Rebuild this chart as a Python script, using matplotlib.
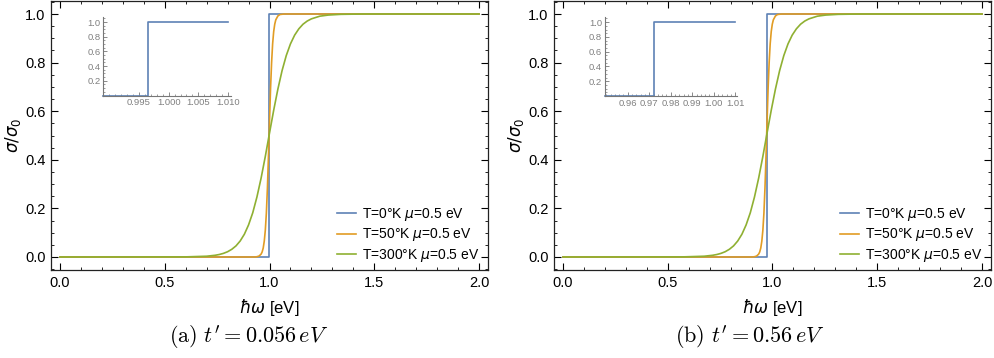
import numpy as np
import matplotlib
matplotlib.use("Agg")
import matplotlib.pyplot as plt
from matplotlib.ticker import MultipleLocator

plt.rcParams['font.family'] = ['Liberation Sans', 'DejaVu Sans']
plt.rcParams['mathtext.fontset'] = 'dejavusans'

# ---- data ----
labels = ["T=0°K $\\mu$=0.5 eV", "T=50°K $\\mu$=0.5 eV", "T=300°K $\\mu$=0.5 eV"]
caption_tex = [r"$\mathrm{(a)}\ t' = 0.056\,eV$", r"$\mathrm{(b)}\ t' = 0.56\,eV$"]

# T = 0 K step position
step_a = 0.9965
step_b = 0.972
step_y = [0, 0, 1, 1]
inset_end = 1.010

# T = 50 K
orange_a_x = [0, 0.93, 0.94, 0.95, 0.96, 0.965, 0.97, 0.975, 0.98, 0.985, 0.99, 0.995, 1.0,
              1.005, 1.01, 1.015, 1.02, 1.025, 1.03, 1.04, 1.05, 1.07, 2.0]
orange_b_x = [0, 0.904, 0.914, 0.924, 0.934, 0.939, 0.944, 0.949, 0.954, 0.959, 0.964, 0.969, 0.974,
              0.979, 0.984, 0.989, 0.994, 0.999, 1.004, 1.014, 1.024, 1.044, 2.0]
orange_y = [0, 0.0, 0.0012, 0.0038, 0.012, 0.021, 0.037, 0.065, 0.11, 0.18, 0.283, 0.413, 0.558,
            0.693, 0.80, 0.878, 0.928, 0.958, 0.976, 0.992, 0.998, 1.0, 1.0]

# T = 300 K
green_a_x = [0, 0.6, 0.7, 0.74, 0.76, 0.78, 0.8, 0.82, 0.84, 0.86, 0.88, 0.9, 0.92, 0.94, 0.96,
             0.98, 1.0, 1.02, 1.04, 1.06, 1.08, 1.1, 1.12, 1.14, 1.16, 1.18, 1.2, 1.24, 1.28,
             1.34, 1.45, 2.0]
green_b_x = [0, 0.574, 0.674, 0.714, 0.734, 0.754, 0.774, 0.794, 0.814, 0.834, 0.854, 0.874, 0.894,
             0.914, 0.934, 0.954, 0.974, 0.994, 1.014, 1.034, 1.054, 1.074, 1.094, 1.114, 1.134,
             1.154, 1.174, 1.214, 1.254, 1.314, 1.424, 2.0]
green_y = [0, 0.0005, 0.0032, 0.007, 0.0102, 0.0149, 0.0217, 0.0317, 0.0457, 0.0659, 0.0937,
           0.132, 0.182, 0.247, 0.325, 0.414, 0.51, 0.604, 0.691, 0.767, 0.829, 0.877, 0.913,
           0.939, 0.958, 0.971, 0.980, 0.991, 0.9956, 0.9986, 1.0, 1.0]

inset_a_ticks = [0.995, 1.000, 1.005, 1.010]
inset_b_ticks = [0.96, 0.97, 0.98, 0.99, 1.00, 1.01]

colors = ['#5E81B5', '#E19C24', '#8FB032']

W, H = 994, 358
fig = plt.figure(figsize=(W / 100, H / 100), dpi=100)


def px_rect(left, top, right, bottom):
    return [left / W, 1 - bottom / H, (right - left) / W, (bottom - top) / H]


def style_main(ax):
    ax.set_xlim(-0.043, 2.043)
    ax.set_ylim(-0.0535, 1.0535)
    ax.xaxis.set_major_locator(MultipleLocator(0.5))
    ax.xaxis.set_minor_locator(MultipleLocator(0.1))
    ax.yaxis.set_major_locator(MultipleLocator(0.2))
    ax.yaxis.set_minor_locator(MultipleLocator(0.05))
    ax.xaxis.set_major_formatter(plt.FormatStrFormatter('%.1f'))
    ax.yaxis.set_major_formatter(plt.FormatStrFormatter('%.1f'))
    ax.tick_params(which='both', direction='in', top=True, right=True, labelsize=10.5, pad=4)
    ax.tick_params(which='major', length=5, width=0.8)
    ax.tick_params(which='minor', length=2.5, width=0.6)
    for s in ax.spines.values():
        s.set_linewidth(0.9)
        s.set_color('#222222')
    ax.set_ylabel(r'$\sigma/\sigma_0$', fontsize=12)
    ax.yaxis.set_label_coords(-0.064, 0.5)
    ax.set_xlabel(r'$\hbar\omega$ [eV]', fontsize=12, labelpad=5)


def style_inset(ax, xlim, ticks, minor, fmt):
    ax.set_xlim(*xlim)
    ax.set_ylim(0, 1.07)
    ax.spines['top'].set_visible(False)
    ax.spines['right'].set_visible(False)
    for s in ['left', 'bottom']:
        ax.spines[s].set_color('#777777')
        ax.spines[s].set_linewidth(0.8)
    ax.set_xticks(ticks)
    ax.xaxis.set_minor_locator(MultipleLocator(minor))
    ax.xaxis.set_major_formatter(plt.FormatStrFormatter(fmt))
    ax.set_yticks([0.2, 0.4, 0.6, 0.8, 1.0])
    ax.yaxis.set_minor_locator(MultipleLocator(0.05))
    ax.yaxis.set_major_formatter(plt.FormatStrFormatter('%.1f'))
    ax.tick_params(which='both', direction='in', labelsize=6.8, labelcolor='#808080',
                   color='#777777', pad=2)
    ax.tick_params(which='major', length=3, width=0.6)
    ax.tick_params(which='minor', length=1.5, width=0.5)
    ax.patch.set_alpha(0)


panels = [
    dict(rect=px_rect(51, 1, 488, 270), inset=px_rect(103.3, 17, 231, 95.5),
         step=step_a, ox=orange_a_x, gx=green_a_x, ixlim=(0.989, 1.0105),
         iticks=inset_a_ticks, iminor=0.001, ifmt='%.3f', cx=249),
    dict(rect=px_rect(554, 1, 991, 270), inset=px_rect(605, 17, 737, 96),
         step=step_b, ox=orange_b_x, gx=green_b_x, ixlim=(0.9494, 1.0108),
         iticks=inset_b_ticks, iminor=0.002, ifmt='%.2f', cx=750),
]

for i, p in enumerate(panels):
    ax = fig.add_axes(p['rect'])
    step_x = [0, p['step'], p['step'], 2.0]
    ax.plot(step_x, step_y, color=colors[0], lw=1.2, label=labels[0])
    ax.plot(p['ox'], orange_y, color=colors[1], lw=1.2, label=labels[1])
    ax.plot(p['gx'], green_y, color=colors[2], lw=1.2, label=labels[2])
    style_main(ax)
    ax.legend(loc='lower right', bbox_to_anchor=(1 - 4 / 437, 2 / 269), frameon=False,
              fontsize=10, handlelength=1.3, handletextpad=0.5, labelspacing=0.25,
              borderaxespad=0.0, borderpad=0.3)

    ins = fig.add_axes(p['inset'])
    ins_x = [p['ixlim'][0], p['step'], p['step'], inset_end]
    ins.plot(ins_x, step_y, color=colors[0], lw=1.2, clip_on=False)
    style_inset(ins, p['ixlim'], p['iticks'], p['iminor'], p['ifmt'])

    fig.text(p['cx'] / W, 1 - 337 / H, caption_tex[i], fontsize=16, ha='center', va='center',
             math_fontfamily='cm')

fig.savefig('out.png', dpi=100)
